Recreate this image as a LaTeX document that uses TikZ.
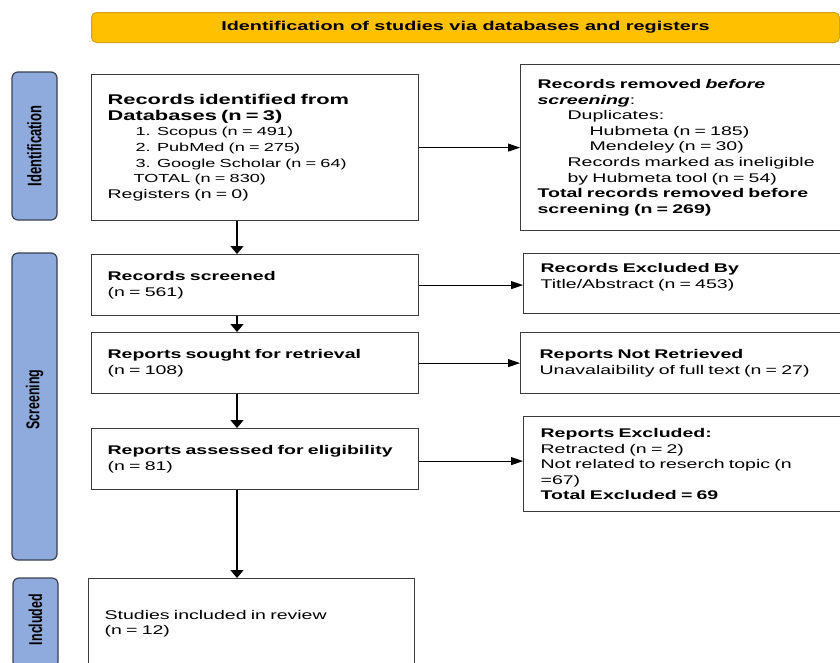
\documentclass[tikz,border=0pt]{standalone}
\usepackage{fontspec}
\setmainfont{Liberation Sans}[FakeStretch=1.55]
\newfontfamily\sidefont{Liberation Sans}
\usepackage{graphicx}
\usetikzlibrary{arrows.meta}
\usetikzlibrary{positioning}

\definecolor{bannerfill}{HTML}{FFC000}
\definecolor{bannerline}{HTML}{D4A017}
\definecolor{sidefill}{HTML}{8FAADC}
\definecolor{sideline}{HTML}{3A4150}
\definecolor{boxline}{HTML}{3C3C3C}

\begin{document}
\begin{tikzpicture}[
    x=1pt, y=-1pt,
    font=\fontsize{12.6}{15.6}\selectfont
]
\tikzset{
    mybox/.style = {rectangle, draw=boxline, line width=1.2pt, anchor=north west,
                    align=left, inner xsep=16pt, inner ysep=0pt},
    banner/.style = {rectangle, rounded corners=5pt, draw=bannerline, line width=1pt,
                     fill=bannerfill, anchor=north west, inner sep=0pt,
                     font=\fontsize{12.8}{15}\selectfont\bfseries},
    phase/.style = {rectangle, rounded corners=6pt, draw=sideline, line width=1.2pt,
                    fill=sidefill, rotate=90, inner sep=0pt, minimum height=45pt},
    edgeh/.style = {-{Triangle[length=12pt,width=8pt]}, line width=1pt},
    edgev/.style = {-{Triangle[length=8pt,width=13pt]}, line width=1.5pt}
}
\useasboundingbox (0,0) rectangle (840,662);

% stage labels on the left
\node[phase, minimum width=148pt] at (34.5,146) (pid)
    {\scalebox{1}[1.5]{\sidefont\fontsize{13}{15}\selectfont\bfseries Identification}};
\node[phase, minimum width=307pt] at (34.5,406.5) (pscr)
    {\scalebox{1}[1.5]{\sidefont\fontsize{12.4}{15}\selectfont\bfseries\hspace*{14pt}Screening}};
\node[phase, minimum width=90pt] at (35.5,623) (pinc)
    {\scalebox{1}[1.5]{\sidefont\fontsize{12.4}{15}\selectfont\bfseries\hspace*{7pt}Included}};

% header
\node[banner, minimum width=748pt, minimum height=30pt] at (91,12) (head)
    {\raisebox{-1.5pt}{Identification of studies via databases and registers}};

% main column
\node[mybox, text width=295pt, minimum height=146pt] at (91,74) (rec)
    {{\fontsize{14.1}{15.6}\selectfont\bfseries Records identified from\\Databases (n = 3)}\\
     \hspace*{28pt}{\fontsize{11.7}{15.6}\selectfont 1. Scopus (n = 491)}\\
     \hspace*{28pt}{\fontsize{11.7}{15.6}\selectfont 2. PubMed (n = 275)}\\
     \hspace*{28pt}{\fontsize{11.7}{15.6}\selectfont 3. Google Scholar (n = 64)}\\
     \hspace*{26pt}{\fontsize{11.7}{15.6}\selectfont TOTAL (n = 830)}\\
     Registers (n = 0)};
\node[mybox, text width=295pt, minimum height=61pt] at (91,254) (scr)
    {\textbf{Records screened}\\(n = 561)};
\node[mybox, text width=295pt, minimum height=61pt] at (91,332) (sought)
    {\textbf{Reports sought for retrieval}\\(n = 108)};
\node[mybox, text width=295pt, minimum height=61pt] at (91,428) (assess)
    {\textbf{Reports assessed for eligibility}\\(n = 81)};
\node[mybox, text width=294pt, minimum height=90pt] at (88,578) (incl)
    {Studies included in review\\(n = 12)};

% right column
\node[mybox, text width=300pt, minimum height=166pt, inner xsep=17pt] at (520,64) (rem)
    {\textbf{Records removed \textit{before}}\\\textbf{\textit{screening}}:\\
     \hspace*{30pt}Duplicates:\\
     \hspace*{52pt}Hubmeta (n = 185)\\
     \hspace*{52pt}Mendeley (n = 30)\\
     \hspace*{30pt}Records marked as ineligible\\
     \hspace*{30pt}by Hubmeta tool (n = 54)\\
     \textbf{Total records removed before}\\
     \textbf{screening (n = 269)}};
\node[mybox, text width=300pt, minimum height=60pt, inner xsep=17pt] at (523,253) (exc1)
    {\textbf{Records Excluded By}\\Title/Abstract (n = 453)\\\mbox{}};
\node[mybox, text width=300pt, minimum height=61pt, inner xsep=19pt] at (520,332) (notret)
    {\textbf{Reports Not Retrieved}\\Unavalaibility of full text (n = 27)};
\node[mybox, text width=300pt, minimum height=95pt, inner xsep=17pt] at (523,416) (exc2)
    {\textbf{Reports Excluded:}\\Retracted (n = 2)\\Not related to reserch topic (n\\=67)\\
     \textbf{Total Excluded = 69}};

% connectors
\coordinate (colx) at (237,0);
\coordinate (aout) at ([yshift=-2pt]assess.east);
\draw[edgev] (rec.south -| colx) -- (scr.north -| colx);
\draw[edgev] (scr.south -| colx) -- (sought.north -| colx);
\draw[edgev] (sought.south -| colx) -- (assess.north -| colx);
\draw[edgev] (assess.south -| colx) -- (incl.north -| colx);
\draw[edgeh] (rec.east) -- (rem.west |- rec.east);
\draw[edgeh] (scr.east) -- (exc1.west |- scr.east);
\draw[edgeh] (sought.east) -- (notret.west |- sought.east);
\draw[edgeh] (aout) -- (exc2.west |- aout);
\end{tikzpicture}
\end{document}
